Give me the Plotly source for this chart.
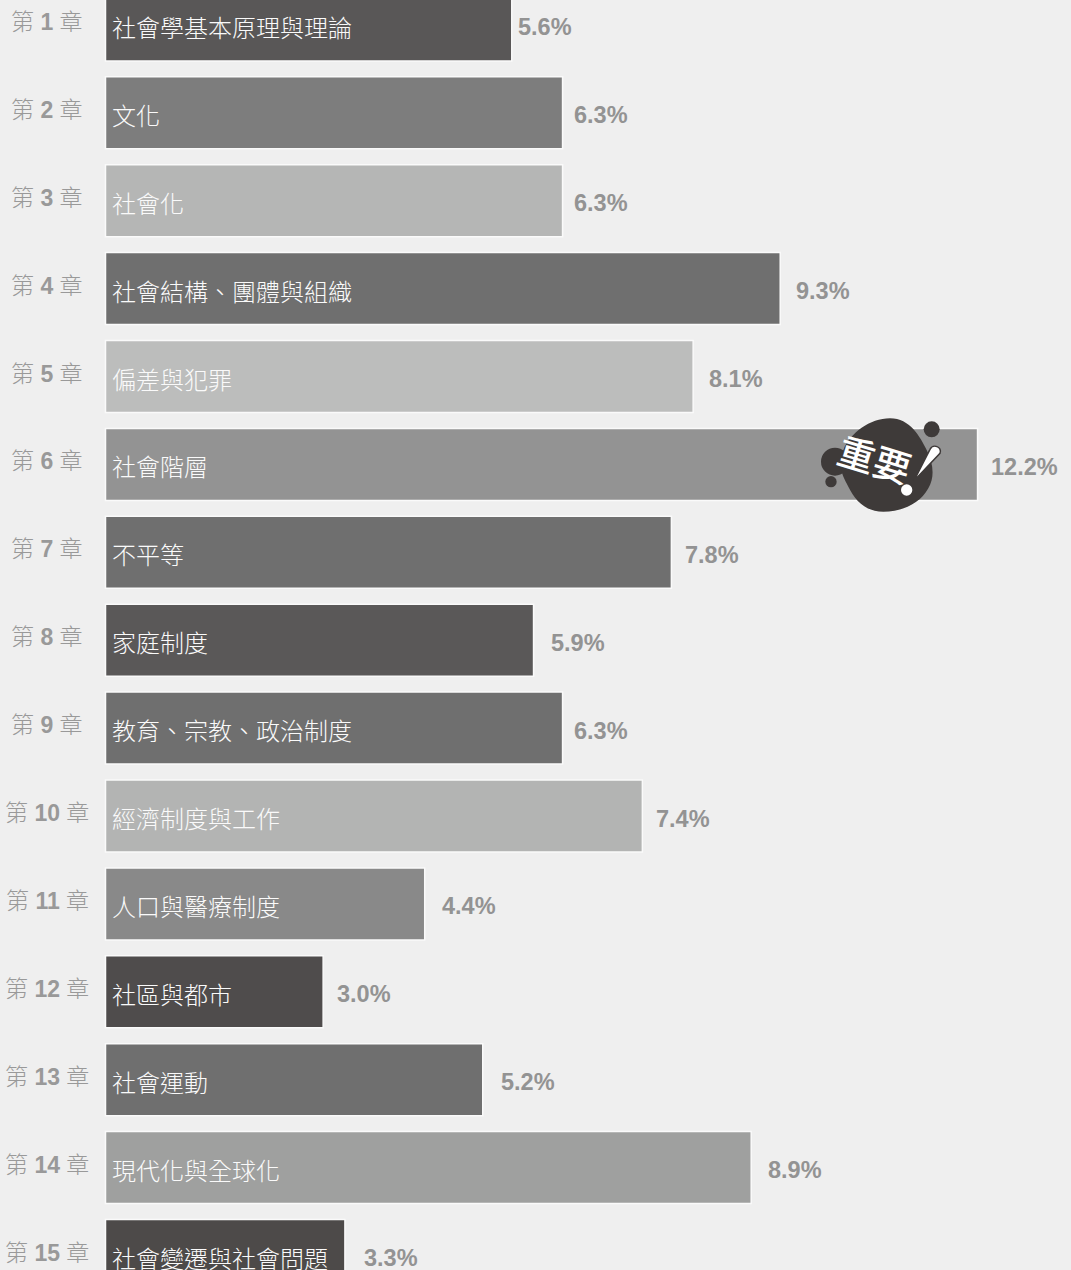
import plotly.graph_objects as go

W, H = 1071, 1270
chapters = ["1", "2", "3", "4", "5", "6", "7", "8", "9", "10", "11", "12", "13", "14", "15"]
topics = ["社會學基本原理與理論", "文化", "社會化", "社會結構、團體與組織", "偏差與犯罪", "社會階層", "不平等",
          "家庭制度", "教育、宗教、政治制度", "經濟制度與工作", "人口與醫療制度", "社區與都市", "社會運動",
          "現代化與全球化", "社會變遷與社會問題"]
# lengths as drawn (the 12.2% bar is drawn slightly short in the source)
bar_lengths = [5.6, 6.3, 6.3, 9.3, 8.1, 12.02, 7.8, 5.9, 6.3, 7.4, 4.4, 3.0, 5.2, 8.9, 3.3]
pct_labels = ["5.6%", "6.3%", "6.3%", "9.3%", "8.1%", "12.2%", "7.8%", "5.9%", "6.3%", "7.4%", "4.4%", "3.0%",
              "5.2%", "8.9%", "3.3%"]
bar_colors = ["#595757", "#7d7d7d", "#b5b6b5", "#6f6f6f", "#bcbdbc", "#939393", "#6f6f6f", "#5a5858", "#6f6f6f",
              "#b3b4b3", "#898989", "#4f4c4c", "#6f6f6f", "#9fa09f", "#4d4a49"]
label_gaps = [4, 9, 9, 14, 14, 11, 12, 15, 9, 12, 15, 12, 16, 15, 17]

BG = "#efefef"
DARK = "#3e3a39"
PX_PER_UNIT = 72.55
PITCH = 87.9
FIRST_CENTER = 24.9
CJK = "Noto Sans CJK TC"

fig = go.Figure(go.Bar(
    y=list(range(len(bar_lengths))), x=bar_lengths, orientation="h",
    marker=dict(color=bar_colors, line=dict(color="#fafafa", width=1.5)),
    width=72 / PITCH, hoverinfo="skip",
))

ann = []
for i, (c, t, v, p, g) in enumerate(zip(chapters, topics, bar_lengths, pct_labels, label_gaps)):
    ann.append(dict(xref="paper", x=47 / W, yref="y", y=i, yshift=3, xanchor="center", yanchor="middle",
                    showarrow=False,
                    text=f"第 <b style='font-family:Liberation Sans'>{c}</b> 章",
                    font=dict(family=f"Liberation Sans, {CJK}", size=23, color="#999999", weight=300)))
    ann.append(dict(xref="x", x=0, xshift=4, yref="y", y=i, yshift=-1.5, xanchor="left", yanchor="middle",
                    showarrow=False, text=t, font=dict(family=CJK, size=24, color="#fafafa", weight=300)))
    ann.append(dict(xref="x", x=v, xshift=g, yref="y", y=i, yshift=-2.5, xanchor="left", yanchor="middle",
                    showarrow=False, text=f"<b>{p}</b>",
                    font=dict(family="Liberation Sans", size=23.5, color="#939393")))


# badge decoration, drawn in page pixels taken from the 3x zoom crop
def zx(v):
    return (780 + v / 3) / W


def zy(v):
    return 1 - (400 + v / 3) / H


def path(cmds):
    out = []
    for cmd, pts in cmds:
        out.append(cmd + " " + " ".join(f"{zx(a):.5f},{zy(b):.5f}" for a, b in pts))
    return " ".join(out) + " Z"


def circle(cx, cy, r, fill=DARK):
    return dict(type="circle", xref="paper", yref="paper", x0=zx(cx - r), x1=zx(cx + r), y0=zy(cy + r), y1=zy(cy - r),
                fillcolor=fill, line=dict(width=0), layer="above")


blob = path([("M", [(330, 55)]),
             ("C", [(390, 55), (420, 110), (440, 150)]),
             ("C", [(460, 190), (465, 230), (445, 265)]),
             ("C", [(420, 310), (370, 335), (310, 335)]),
             ("C", [(255, 335), (225, 300), (205, 260)]),
             ("C", [(190, 230), (170, 200), (190, 150)]),
             ("C", [(210, 100), (270, 55), (330, 55)])])
wedge = path([("M", [(450, 148)]),
              ("C", [(458, 130), (488, 140), (480, 160)]),
              ("L", [(402, 242)])])
shapes = [
    circle(165, 185, 42), circle(153, 245, 17), circle(455, 88, 24),
    dict(type="path", path=blob, xref="paper", yref="paper", fillcolor=DARK, line=dict(width=0), layer="above"),
    dict(type="path", path=wedge, xref="paper", yref="paper", fillcolor="#ffffff",
         line=dict(color=DARK, width=1.5), layer="above"),
    circle(380, 270, 17, "#ffffff"),
]
ann.append(dict(xref="paper", x=zx(285), yref="paper", y=zy(175), xanchor="center", yanchor="middle",
                showarrow=False, text="重要", textangle=17,
                font=dict(family=CJK, size=37, color="#ffffff", weight=500)))

fig.update_layout(
    width=W, height=H, margin=dict(l=0, r=0, t=0, b=0), paper_bgcolor=BG, plot_bgcolor=BG,
    showlegend=False, annotations=ann, shapes=shapes,
    xaxis=dict(range=[-105.5 / PX_PER_UNIT, (W - 105.5) / PX_PER_UNIT], visible=False, fixedrange=True),
    yaxis=dict(range=[(H - FIRST_CENTER) / PITCH, -FIRST_CENTER / PITCH], visible=False, fixedrange=True),
)
fig.write_html("out.html", config=dict(displayModeBar=False),
               post_script="document.body.style.margin='0';document.documentElement.style.background='#efefef';")
